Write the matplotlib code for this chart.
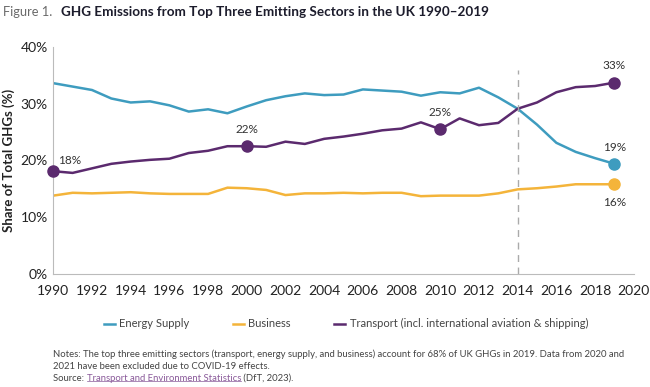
import matplotlib.pyplot as plt
from matplotlib.lines import Line2D

plt.rcParams['font.family'] = ['Lato', 'DejaVu Sans']

years = list(range(1990, 2020))
energy = [33.6, 33.0, 32.4, 30.9, 30.2, 30.4, 29.7, 28.6, 29.0, 28.3,
          29.5, 30.6, 31.3, 31.8, 31.5, 31.6, 32.5, 32.3, 32.1, 31.4,
          32.0, 31.8, 32.8, 31.1, 29.1, 26.3, 23.1, 21.5, 20.4, 19.4]
business = [13.8, 14.3, 14.2, 14.3, 14.4, 14.2, 14.1, 14.1, 14.1, 15.2,
            15.1, 14.8, 13.9, 14.2, 14.2, 14.3, 14.2, 14.3, 14.3, 13.7,
            13.8, 13.8, 13.8, 14.2, 14.9, 15.1, 15.4, 15.8, 15.8, 15.8]
transport = [18.1, 17.8, 18.6, 19.4, 19.8, 20.1, 20.3, 21.3, 21.7, 22.5,
             22.5, 22.4, 23.3, 22.9, 23.8, 24.2, 24.7, 25.3, 25.6, 26.7,
             25.5, 27.4, 26.2, 26.6, 29.1, 30.2, 32.0, 32.9, 33.1, 33.7]

labels = ["Energy Supply", "Business",
          "Transport (incl. international aviation & shipping)"]
colors = ["#3e9cbf", "#f4b43a", "#5b2a6e"]

# marked points: (series index, year, label, text offset in points)
marks = [(2, 1990, "18%", (12, 4)), (2, 2000, "22%", (0, 8)),
         (2, 2010, "25%", (0, 8)), (2, 2019, "33%", (0, 8)),
         (0, 2019, "19%", (0, 8)), (1, 2019, "16%", (0, -17))]

fig = plt.figure(figsize=(6.5, 3.87), dpi=100)
ax = fig.add_axes([0.082, 0.292, 0.893, 0.587])

series = [energy, business, transport]
for s, c, lab in zip(series, colors, labels):
    ax.plot(years, s, color=c, lw=1.8, label=lab)

for i, yr, txt, off in marks:
    v = series[i][years.index(yr)]
    ax.plot(yr, v, "o", color=colors[i], ms=8, clip_on=False, zorder=5)
    ax.annotate(txt, (yr, v), xytext=off, textcoords="offset points",
                ha="center", va="bottom", fontsize=8.5, color="#333333")

ax.axvline(2014, color="#aaaaaa", lw=1, ls=(0, (5, 4)), ymax=0.9)

ax.set_xlim(1990, 2020)
ax.set_ylim(0, 40)
ax.set_xticks(range(1990, 2021, 2))
ax.set_yticks([0, 10, 20, 30, 40])
ax.set_yticklabels(["0%", "10%", "20%", "30%", "40%"])
ax.tick_params(length=0, labelsize=10, colors="#222222", pad=4)
ax.tick_params(axis="x", pad=8)
for sp in ["top", "right"]:
    ax.spines[sp].set_visible(False)
for sp in ["left", "bottom"]:
    ax.spines[sp].set_color("#bbbbbb")
ax.set_ylabel("Share of Total GHGs (%)", fontsize=9.5, fontweight="bold",
              color="#222222", labelpad=4)

fig.legend(loc="center", bbox_to_anchor=(0.532, 0.163), ncol=3, frameon=False,
           fontsize=8, handlelength=1.0, handletextpad=0.4, columnspacing=3.9,
           labelcolor="#444444")

fig.text(0.004, 0.968, "Figure 1.", fontsize=9.3, color="#6a6a6a",
         va="center")
fig.text(0.094, 0.968, "GHG Emissions from Top Three Emitting Sectors in the UK 1990\u20132019",
         fontsize=9.7, color="#1c1c2c", fontweight="bold", va="center")

notes = ("Notes: The top three emitting sectors (transport, energy supply, and business) account for "
         "68% of UK GHGs in 2019. Data from 2020 and\n2021 have been excluded due to COVID-19 effects.")
fig.text(0.082, 0.070, notes, fontsize=6.8, color="#444444", va="center",
         linespacing=1.45)
ys = 0.023
src = fig.text(0.082, ys, "Source: ", fontsize=6.8, color="#444444", va="center")
fig.canvas.draw()
r = fig.canvas.get_renderer()
bb = src.get_window_extent(r).transformed(fig.transFigure.inverted())
link = fig.text(bb.x1, ys, "Transport and Environment Statistics", fontsize=6.8,
                color="#8a5a9a", va="center")
bb2 = link.get_window_extent(r).transformed(fig.transFigure.inverted())
fig.add_artist(Line2D([bb2.x0, bb2.x1], [bb2.y0 + 0.004, bb2.y0 + 0.004],
                      color="#8a5a9a", lw=0.5))
fig.text(bb2.x1, ys, " (DfT, 2023).", fontsize=6.8, color="#444444", va="center")

fig.savefig("out.png", dpi=100)
